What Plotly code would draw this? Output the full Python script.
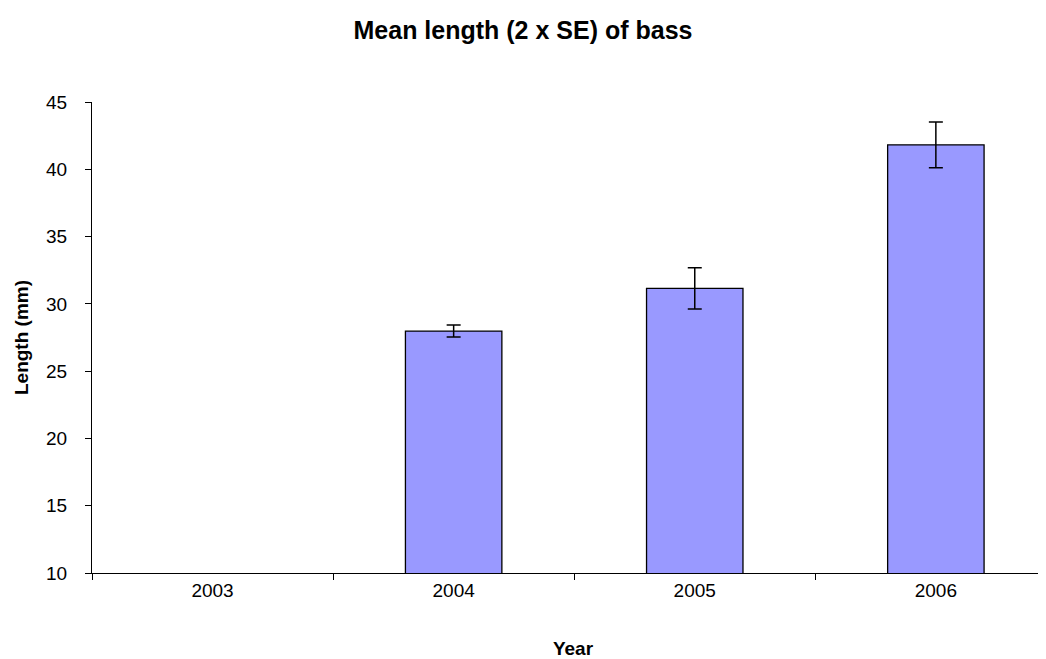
import plotly.graph_objects as go

# Mean bass length per year with 2 x SE error bars
YEARS = ["2003", "2004", "2005", "2006"]
MEAN_LENGTH = [None, 27.98, 31.15, 41.82]
TWO_SE = [None, 0.45, 1.54, 1.7]

BAR_FILL = "#9999FF"
FONT = "Liberation Sans, Arial, sans-serif"

fig = go.Figure()

fig.add_trace(
    go.Bar(
        x=YEARS,
        y=MEAN_LENGTH,
        width=0.4,
        marker=dict(color=BAR_FILL, line=dict(color="black", width=1.3)),
        error_y=dict(type="data", array=TWO_SE, visible=True, color="black", thickness=1.5, width=7),
        showlegend=False,
    )
)

# the page body adds an 8px offset, so margins are shifted by that amount;
# the plot area runs past the right edge like the cropped original
fig.update_layout(
    width=1046,
    height=659,
    plot_bgcolor="white",
    paper_bgcolor="white",
    margin=dict(l=84, r=0, t=94, b=94),
    font=dict(family=FONT, size=19, color="black"),
    title=dict(
        text="<b>Mean length (2 x SE) of bass</b>",
        x=515 / 1046,
        xref="container",
        xanchor="center",
        y=1 - 22 / 659,
        yanchor="middle",
        font=dict(family=FONT, size=25, color="black"),
    ),
)

fig.update_xaxes(
    type="category",
    range=[-0.5, 3.49],
    showline=True,
    linecolor="black",
    linewidth=1,
    ticks="outside",
    ticklen=6,
    tickcolor="black",
    tickson="boundaries",
    showgrid=False,
    title=dict(text="<b>Year</b>", font=dict(size=19), standoff=41),
    tickfont=dict(size=19),
)
fig.update_yaxes(
    range=[10, 45],
    dtick=5,
    showline=True,
    linecolor="black",
    linewidth=1,
    ticks="outside",
    ticklen=6,
    tickcolor="black",
    ticklabelstandoff=14,
    showgrid=False,
    zeroline=False,
    title=dict(text="<b>Length (mm)</b>", font=dict(size=19), standoff=12),
    tickfont=dict(size=19),
)

fig.write_html("out.html")
